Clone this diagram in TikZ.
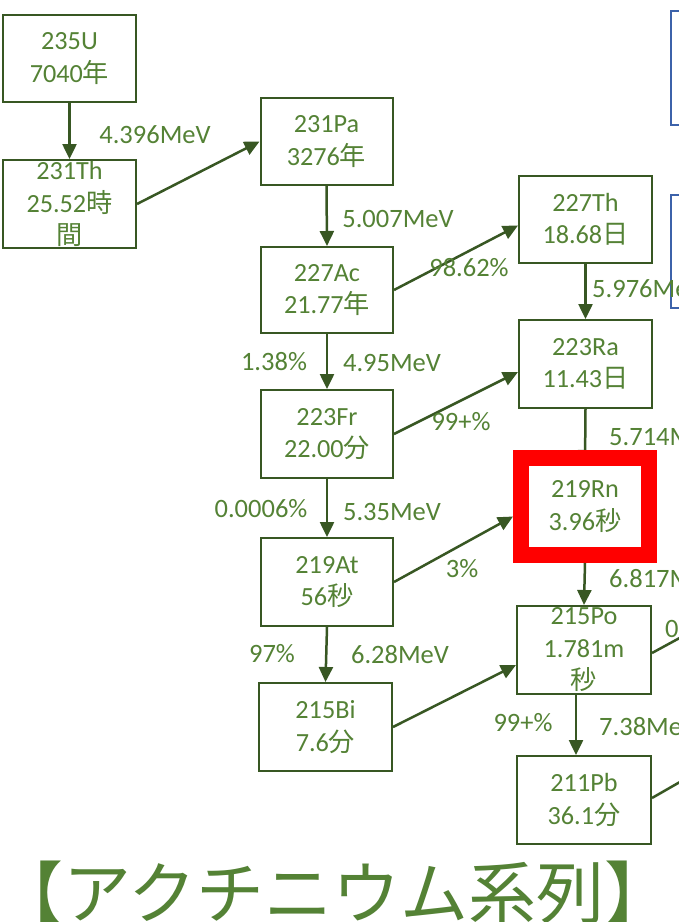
\documentclass[tikz,border=0pt]{standalone}
\usepackage{fontspec}
\setmainfont{Carlito}
\newfontfamily\jpfont{Noto Sans CJK JP}
\newcommand{\jc}[1]{{\jpfont #1}}
\usetikzlibrary{arrows.meta}
\definecolor{boxgreen}{HTML}{385723}
\definecolor{txtgreen}{HTML}{548235}
\definecolor{bluebox}{HTML}{3C62AA}
\pgfdeclarelayer{bg}
\pgfsetlayers{bg,main}
\begin{document}
\begin{tikzpicture}[x=1pt,y=-1pt,
  nuc/.style={draw=boxgreen, line width=2pt, fill=white, minimum width=133pt, minimum height=87pt, inner sep=0pt, text=txtgreen, align=center, font=\fontsize{26.2}{32.5}\selectfont},
  hot/.style={draw=red, line width=16pt, fill=white, minimum width=128pt, minimum height=97pt, inner sep=0pt, text=txtgreen, align=center, font=\fontsize{26.2}{32.5}\selectfont},
  lbl/.style={text=txtgreen, inner sep=0pt, anchor=base, font=\fontsize{26.5}{30}\selectfont},
  lblw/.style={lbl, anchor=base west},
  arr/.style={draw=boxgreen, line width=2.5pt, -{Triangle[length=15pt,width=14pt]}},
  conn/.style={draw=boxgreen, line width=2.5pt},
  bluerect/.style={draw=bluebox, line width=2pt}
]
\useasboundingbox (0,0) rectangle (679,922);
\clip (0,0) rectangle (679,922);
\begin{pgfonlayer}{bg}
\fill[white] (0,0) rectangle (679,922);
\end{pgfonlayer}

% blue boxes at right edge
\draw[bluerect] (671,11) rectangle (760,125);
\draw[bluerect] (671,195) rectangle (760,308);

% nuclide boxes
\node[nuc] (U235)  at (69.5,58.5) {235U\\7040\jc{年}};
\node[nuc, minimum height=88pt] (Th231) at (69.5,204) {231Th\\25.52\jc{時}\\\jc{間}};
\node[nuc, minimum width=132pt] (Pa231) at (326.5,141.5) {231Pa\\3276\jc{年}};
\node[nuc, minimum width=132pt, minimum height=86pt] (Ac227) at (327,290) {227Ac\\21.77\jc{年}};
\node[nuc, minimum width=132pt, minimum height=88pt] (Fr223) at (327,434) {223Fr\\22.00\jc{分}};
\node[nuc, minimum width=132pt, minimum height=88pt] (At219) at (327,582) {219At\\56\jc{秒}};
\node[nuc, minimum height=88pt] (Bi215) at (325.5,727) {215Bi\\7.6\jc{分}};
\node[nuc] (Th227) at (585.5,219.5) {227Th\\18.68\jc{日}};
\node[nuc, minimum height=88pt] (Ra223) at (585.5,364) {223Ra\\11.43\jc{日}};
\node[hot] (Rn219) at (585,506.5) {219Rn\\3.96\jc{秒}};
\node[nuc, minimum width=134pt, minimum height=88pt] (Po215) at (584,650) {215Po\\1.781m\\\jc{秒}};
\node[nuc, minimum width=134pt, minimum height=88pt] (Pb211) at (584,800) {211Pb\\36.1\jc{分}};

% hidden arrow into the red box
\begin{pgfonlayer}{bg}
\draw[arr] (Ra223.south) -- ([yshift=-15pt]Rn219.north);
\end{pgfonlayer}

% vertical arrows
\draw[arr] (U235.south) -- (Th231.north);
\draw[arr] (Pa231.south) -- (Ac227.north);
\draw[arr] (Ac227.south) -- (Fr223.north);
\draw[arr] (Fr223.south) -- (At219.north);
\draw[arr] (At219.south) -- (Bi215.north);
\draw[arr] (Th227.south) -- (Ra223.north);
\draw[arr] (Rn219.south) -- (Po215.north);
\draw[arr] ([xshift=-8pt]Po215.south) -- ([xshift=-8pt]Pb211.north);

% diagonal arrows
\draw[arr] (Th231.east) -- (Pa231.west);
\draw[arr] (Ac227.east) -- ([yshift=-6pt]Th227.west);
\draw[arr] (Fr223.east) -- ([yshift=-8pt]Ra223.west);
\draw[arr] (At219.east) -- ([yshift=-10pt]Rn219.west);
\draw[arr] (Bi215.east) -- ([yshift=-15pt]Po215.west);
\coordinate (offA) at (720,616);
\coordinate (offB) at (720,759);
\draw[conn] ([yshift=-3pt]Po215.east) -- (offA);
\draw[conn] ([yshift=2pt]Pb211.east) -- (offB);

% labels
\node[lbl] (l1) at (155,143) {4.396MeV};
\node[lbl] (l2) at (398,227) {5.007MeV};
\node[lbl] (l3) at (469,276) {98.62\%};
\node[lblw] (l4) at (592,297) {5.976MeV};
\node[lbl] (l5) at (274,370) {1.38\%};
\node[lbl] (l6) at (392,371) {4.95MeV};
\node[lbl] (l7) at (461,430) {99+\%};
\node[lblw] (l8) at (609,445) {5.714MeV};
\node[lbl] (l9) at (261,517) {0.0006\%};
\node[lbl] (l10) at (392,520) {5.35MeV};
\node[lbl] (l11) at (462,577) {3\%};
\node[lblw] (l12) at (609,587) {6.817MeV};
\node[lbl] (l13) at (272,662) {97\%};
\node[lbl] (l14) at (400,663) {6.28MeV};
\node[lblw] (l15) at (665,637) {0};
\node[lbl] (l16) at (523,731) {99+\%};
\node[lblw] (l17) at (599,735) {7.38MeV};

% title
\node[anchor=base, text=txtgreen, inner sep=0pt, font=\jpfont\fontsize{68}{80}\selectfont] (title) at (334,918) {【アクチニウム系列】};
\end{tikzpicture}
\end{document}
